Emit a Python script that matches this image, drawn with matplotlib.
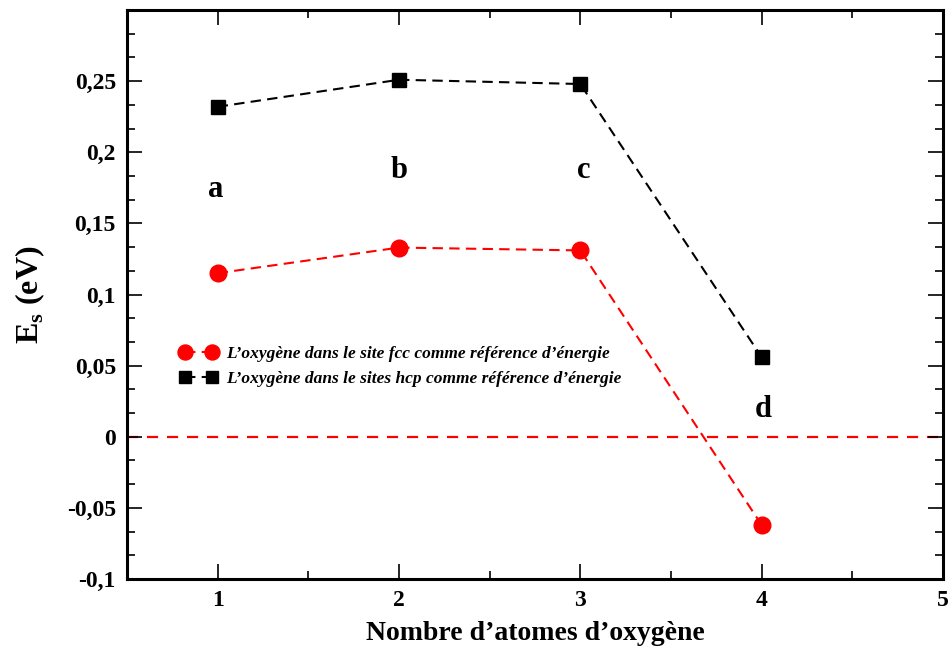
import numpy as np
import matplotlib
matplotlib.use("Agg")
import matplotlib.pyplot as plt
from matplotlib.ticker import MultipleLocator, FuncFormatter

plt.rcParams['font.family'] = ['Liberation Serif', 'DejaVu Serif']
plt.rcParams['font.weight'] = 'bold'
plt.rcParams['mathtext.fontset'] = 'custom'
plt.rcParams['mathtext.rm'] = 'Liberation Serif:bold'

# data
n_atoms = [1, 2, 3, 4]
es_fcc = [0.115, 0.133, 0.131, -0.062]
es_hcp = [0.232, 0.251, 0.248, 0.056]
labels = ['a', 'b', 'c', 'd']
label_x = [0.99, 2.0, 3.02, 4.01]
label_y = [0.174, 0.187, 0.187, 0.019]
legend_fcc = "L\u2019oxygène dans le site fcc comme référence d\u2019énergie"
legend_hcp = "L\u2019oxygène dans le sites hcp comme référence d\u2019énergie"

fig = plt.figure(figsize=(9.52, 6.48), dpi=100)
ax = fig.add_axes([0.1334, 0.1065, 0.8571, 0.878])

ax.axhline(0, color='red', ls=(0, (5, 4)), lw=1.6, zorder=1)
ax.plot(n_atoms, es_fcc, color='red', ls=(0, (5, 3)), lw=1.5,
        marker='o', markersize=12, label=legend_fcc, zorder=3)
ax.plot(n_atoms, es_hcp, color='black', ls=(0, (5, 3)), lw=1.5,
        marker='s', markersize=10, label=legend_hcp, zorder=3)

for t, x, y in zip(labels, label_x, label_y):
    ax.text(x, y, t, fontsize=22, fontweight='bold', ha='center', va='center')

ax.set_xlim(0.5, 5)
ax.set_ylim(-0.1, 0.3)
ax.set_xticks([1, 2, 3, 4, 5])
ax.set_yticks(np.arange(-0.1, 0.26, 0.05))
ax.xaxis.set_minor_locator(MultipleLocator(0.5))
ax.yaxis.set_minor_locator(MultipleLocator(0.05 / 3))
ax.yaxis.set_major_formatter(FuncFormatter(lambda v, p: ('%g' % round(v, 3)).replace('.', ',')))

ax.tick_params(which='both', direction='in', top=True, right=True, labelsize=17, width=1.2)
ax.tick_params(which='major', length=11, pad=8)
ax.tick_params(which='minor', length=6)
for s in ax.spines.values():
    s.set_linewidth(2.2)
for lab in ax.get_xticklabels() + ax.get_yticklabels():
    lab.set_fontweight('bold')

ax.set_xlabel("Nombre d\u2019atomes d\u2019oxygène", fontsize=20, fontweight='bold', labelpad=7)
ax.set_ylabel(r"E$_{\mathrm{s}}$ (eV)", fontsize=23, fontweight='bold', labelpad=14)

ax.legend(loc='center left', bbox_to_anchor=(0.045, 0.373), frameon=False, numpoints=2,
          handlelength=2.2, markerscale=0.9, handletextpad=0.5, labelspacing=0.5,
          prop={'family': 'Liberation Serif', 'style': 'italic', 'weight': 'bold', 'size': 12.5})

fig.savefig('out.png', dpi=100)
